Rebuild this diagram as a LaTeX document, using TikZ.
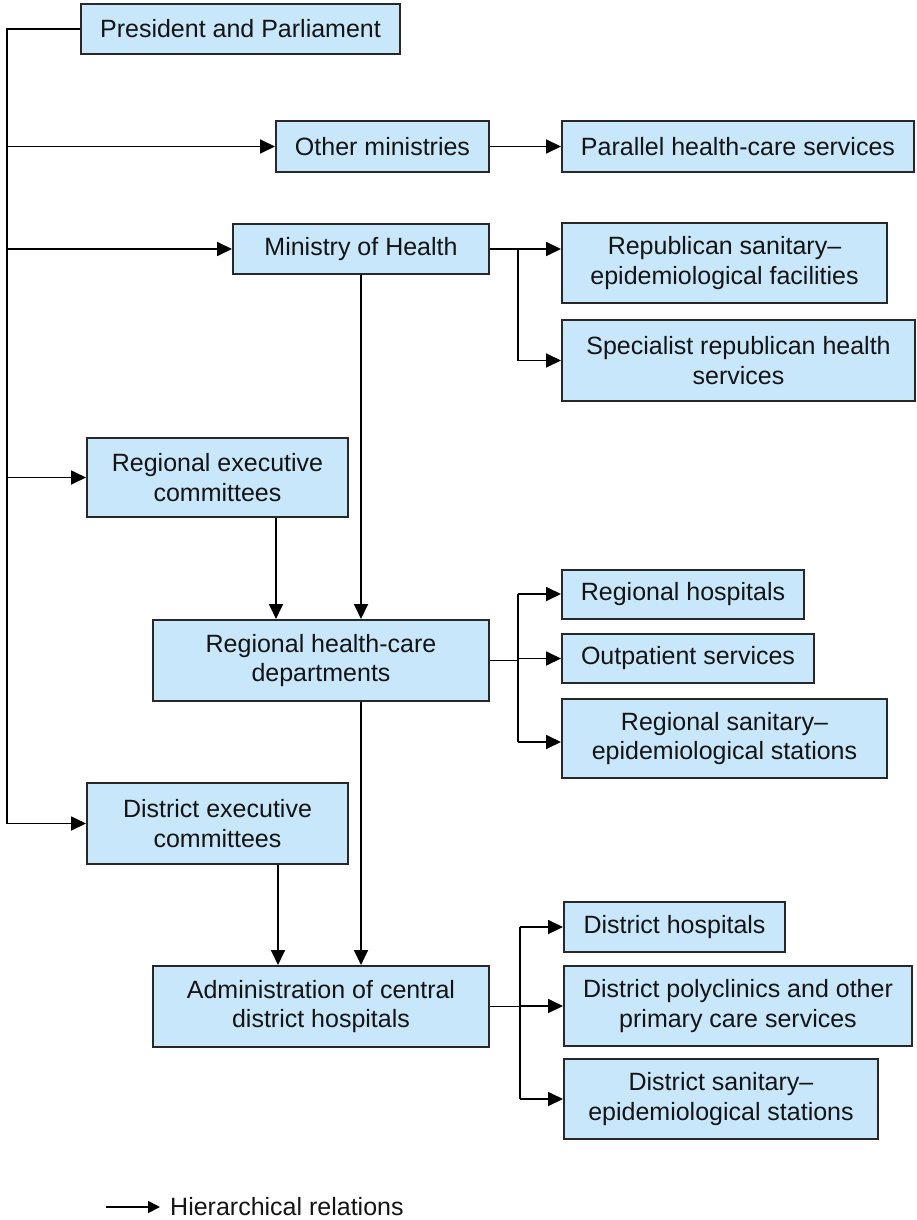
\documentclass[tikz,border=0pt]{standalone}
\usepackage{fontspec}
\setmainfont{Liberation Sans}
\usetikzlibrary{arrows.meta}
\definecolor{boxfill}{RGB}{200,231,250}
\definecolor{boxline}{RGB}{40,40,40}
\definecolor{txt}{RGB}{20,20,20}
\begin{document}
\begin{tikzpicture}[x=1pt,y=-1pt,
  bx/.style={draw=boxline, line width=2pt, fill=boxfill, inner sep=0pt, align=center,
    text=txt, font=\fontsize{25}{29.5}\selectfont},
  conn/.style={draw=black, line width=1.8pt},
  arr/.style={conn, -{Triangle[length=15pt,width=14pt]}}]
\useasboundingbox (0,0) rectangle (916,1220);
% boxes
\node[bx, minimum width=319pt, minimum height=50pt] (pres) at (240.5,29) {President and Parliament};
\node[bx, minimum width=213pt, minimum height=50pt] (other) at (382.5,146.5) {Other ministries};
\node[bx, minimum width=352pt, minimum height=50pt] (par) at (738,146.5) {Parallel health-care services};
\node[bx, minimum width=256pt, minimum height=50pt] (moh) at (361,249) {Ministry of Health};
\node[bx, minimum width=325pt, minimum height=80pt] (rep) at (724.5,263) {Republican sanitary–\\epidemiological facilities};
\node[bx, minimum width=353pt, minimum height=81pt] (spec) at (738.5,360.5) {Specialist republican health\\services};
\node[bx, minimum width=261pt, minimum height=79pt] (rec) at (217.5,477.5) {Regional executive\\committees};
\node[bx, minimum width=336pt, minimum height=81pt] (rhd) at (321,660.5) {Regional health-care\\departments};
\node[bx, minimum width=242pt, minimum height=49pt] (rhos) at (683,594) {Regional hospitals};
\node[bx, minimum width=252pt, minimum height=49pt] (out) at (688,658.5) {Outpatient services};
\node[bx, minimum width=325pt, minimum height=79pt] (rsan) at (724.5,738.5) {Regional sanitary–\\epidemiological stations};
\node[bx, minimum width=261pt, minimum height=81pt] (dec) at (217.5,823.5) {District executive\\committees};
\node[bx, minimum width=336pt, minimum height=81pt] (adm) at (321,1006.5) {Administration of central\\district hospitals};
\node[bx, minimum width=221pt, minimum height=50pt] (dhos) at (674.5,927) {District hospitals};
\node[bx, minimum width=348pt, minimum height=80pt] (dpol) at (738,1006) {District polyclinics and other\\primary care services};
\node[bx, minimum width=314pt, minimum height=80pt] (dsan) at (721,1099) {District sanitary–\\epidemiological stations};
% helper columns
\coordinate (xL) at (7,0);
\coordinate (xA) at (276,0);
\coordinate (xC) at (278,0);
\coordinate (xB) at (518,0);
\coordinate (xD) at (520,0);
\coordinate (yRsan) at (0,742);
% left bus
\draw[conn] (pres.west) -| (xL |- dec.west);
\draw[arr] (xL |- other.west) -- (other.west);
\draw[arr] (xL |- moh.west) -- (moh.west);
\draw[arr] (xL |- rec.west) -- (rec.west);
\draw[arr] (xL |- dec.west) -- (dec.west);
% other ministries
\draw[arr] (other.east) -- (par.west);
% ministry of health
\draw[arr] (moh.east) -- (moh.east -| rep.west);
\draw[conn] (moh.east -| xB) -- (xB |- spec.west);
\draw[arr] (xB |- spec.west) -- (spec.west);
\draw[arr] (moh.south) -- (rhd.north -| moh.south);
% regional
\draw[arr] (rec.south -| xA) -- (rhd.north -| xA);
\draw[conn] (rhd.east) -- (rhd.east -| xB);
\draw[conn] (xB |- rhos.west) -- (xB |- yRsan);
\draw[arr] (xB |- rhos.west) -- (rhos.west);
\draw[arr] (xB |- out.west) -- (out.west);
\draw[arr] (xB |- yRsan) -- (rsan.west |- yRsan);
\draw[arr] (rhd.south -| moh.south) -- (adm.north -| moh.south);
% district
\draw[arr] (dec.south -| xC) -- (adm.north -| xC);
\draw[conn] (adm.east) -- (adm.east -| xD);
\draw[conn] (xD |- dhos.west) -- (xD |- dsan.west);
\draw[arr] (xD |- dhos.west) -- (dhos.west);
\draw[arr] (xD |- dpol.west) -- (dpol.west);
\draw[arr] (xD |- dsan.west) -- (dsan.west);
% legend
\coordinate (l1) at (106,1207);
\coordinate (l2) at (160,1207);
\draw[conn, -{Triangle[length=12pt,width=12pt]}] (l1) -- (l2);
\node[anchor=west, inner sep=0pt, text=txt, font=\fontsize{25}{29.5}\selectfont] (leg) at (170,1207) {Hierarchical relations};
\end{tikzpicture}
\end{document}
